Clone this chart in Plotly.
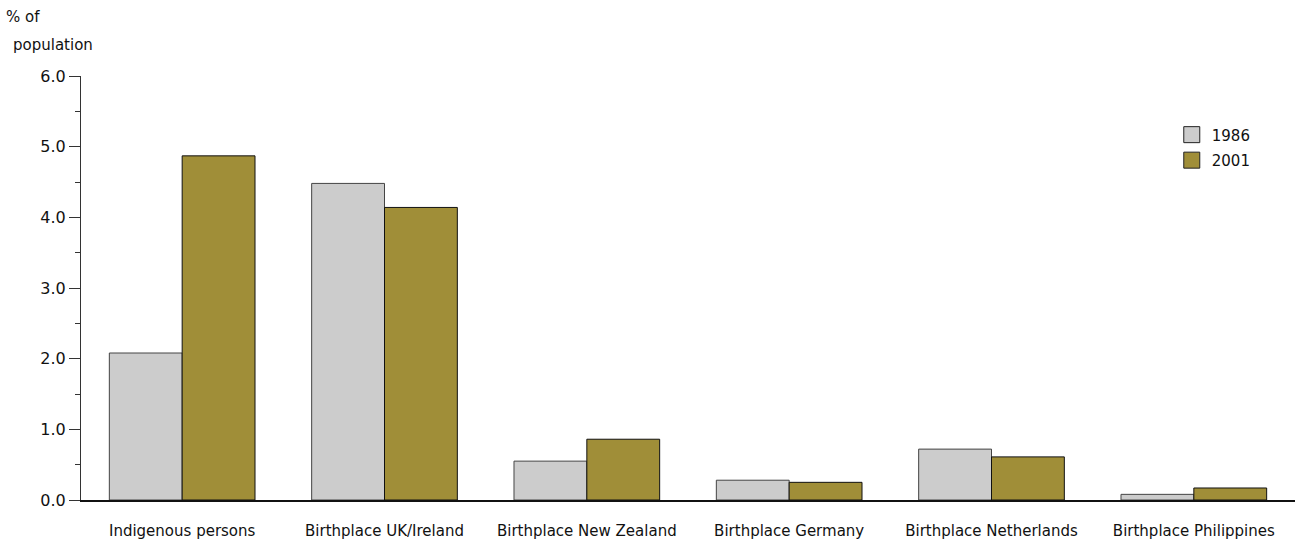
import plotly.graph_objects as go

categories = ["Indigenous persons", "Birthplace UK/Ireland", "Birthplace New Zealand",
              "Birthplace Germany", "Birthplace Netherlands", "Birthplace Philippines"]
series_names = ["1986", "2001"]
values_1986 = [2.08, 4.48, 0.55, 0.28, 0.72, 0.08]
values_2001 = [4.87, 4.14, 0.86, 0.25, 0.61, 0.17]
y_ticks = [0, 1, 2, 3, 4, 5, 6]
y_tick_labels = ["0.0", "1.0", "2.0", "3.0", "4.0", "5.0", "6.0"]

FONT = "DejaVu Sans"
COL_1986 = "#cccccc"
COL_2001 = "#a08e38"

fig = go.Figure()
fig.add_trace(go.Bar(name=series_names[0], x=categories, y=values_1986, showlegend=False,
                     marker=dict(color=COL_1986, line=dict(color="#444444", width=1))))
fig.add_trace(go.Bar(name=series_names[1], x=categories, y=values_2001, showlegend=False,
                     marker=dict(color=COL_2001, line=dict(color="#111111", width=1))))
# legend proxies with larger square swatches
for i, (name, col) in enumerate(zip(series_names, [COL_1986, COL_2001])):
    fig.add_trace(go.Scatter(name=name, x=[None], y=[None], mode="markers",
                             legendgroup="g%d" % i,
                             marker=dict(symbol="square", size=16, color=col,
                                         line=dict(color="#222222", width=1))))

fig.update_layout(
    width=1297, height=539,
    margin=dict(l=81, r=2, t=76, b=39, autoexpand=False),
    paper_bgcolor="white", plot_bgcolor="white",
    barmode="group", bargap=0.28, bargroupgap=0,
    font=dict(family=FONT, size=15, color="#111111"),
    showlegend=True,
    legend=dict(x=0.8985, y=0.90, xanchor="left", yanchor="top",
                bgcolor="rgba(0,0,0,0)", font=dict(size=15, family=FONT),
                itemwidth=30, tracegroupgap=3),
    xaxis=dict(showline=True, linecolor="#111111", linewidth=1.5,
               ticks="", showgrid=False, ticklabelstandoff=16, automargin=False,
               tickfont=dict(size=15, family=FONT)),
    yaxis=dict(range=[0, 6], tickvals=y_ticks, ticktext=y_tick_labels,
               showline=True, linecolor="#333333", linewidth=1,
               ticks="outside", ticklen=11, tickcolor="#333333",
               minor=dict(dtick=0.5, ticks="outside", ticklen=5, tickcolor="#333333"),
               showgrid=False, zeroline=False, automargin=False,
               tickfont=dict(size=16, family=FONT)),
)
fig.add_annotation(text="% of", xref="paper", yref="paper", x=-0.0635, y=1.139,
                   xanchor="left", yanchor="middle", showarrow=False,
                   font=dict(size=15, family=FONT))
fig.add_annotation(text="population", xref="paper", yref="paper", x=-0.0577, y=1.073,
                   xanchor="left", yanchor="middle", showarrow=False,
                   font=dict(size=15, family=FONT))

fig.write_html("out.html", config={"displayModeBar": False},
               post_script="document.body.style.margin='0px';")
